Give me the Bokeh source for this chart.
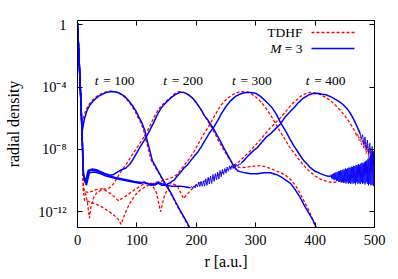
import numpy as np
from bokeh.plotting import figure
from bokeh.models import FixedTicker, LinearAxis, LogAxis, Label, Arrow
from bokeh.embed import file_html
from bokeh.resources import INLINE

# ---------------- data ----------------
x_ticks = [0, 100, 200, 300, 400, 500]
y_ticks = [1, 1e-4, 1e-8, 1e-12]
y_tick_labels = ["1", "10⁻⁴", "10⁻⁸", "10⁻¹²"]

times = [100, 200, 300, 400]
time_label_r = [62, 177, 293, 417]
time_label_log = -3.59

series_names = ["TDHF", "M = 3"]

# curves: (r [a.u.], log10 radial density)
B1 = [(0, 0.1), (2, -1.6), (4, -3.4), (6, -5.2), (8, -6.8), (12, -6.0), (16, -5.5), (21, -5.15), (27, -4.87),
      (35, -4.6), (44, -4.42), (50, -4.33), (58, -4.29), (65, -4.32), (72, -4.42), (80, -4.62), (86, -4.87),
      (92, -5.17), (98, -5.51), (103, -5.9), (109, -6.35), (113, -6.75), (116, -7.24), (121, -7.95),
      (126, -8.72), (133, -9.2), (140, -9.68), (148, -10.2), (157, -10.77), (165, -11.35), (173, -11.92),
      (181, -12.45), (189, -13.0), (195, -13.5)]

B2 = [(0, 0.1), (2, -1.6), (4, -3.4), (6, -5.2), (8, -7.4), (10, -9.5), (13, -10.1), (18, -9.35), (25, -9.25),
      (32, -9.3), (39, -9.42), (47, -9.55), (55, -9.65), (61, -9.6), (67, -9.45), (74, -9.3), (81, -9.2),
      (88, -8.95), (94, -8.6), (100, -8.2), (106, -7.8), (111, -7.5), (116, -7.2), (122, -6.75), (128, -6.3),
      (134, -5.8), (140, -5.4), (145, -5.15), (151, -4.92), (157, -4.7), (164, -4.5), (173, -4.33),
      (180, -4.36), (187, -4.5), (194, -4.72), (201, -5.06), (208, -5.45), (214, -5.85), (220, -6.15),
      (225, -6.45), (229, -6.67), (235, -7.1), (241, -7.5), (246, -7.88), (252, -8.3), (258, -8.72),
      (262, -9.0), (266, -9.23), (270, -9.38), (274, -9.42), (282, -9.5), (291, -9.55), (303, -9.55),
      (314, -9.5), (325, -9.49), (334, -9.6), (342, -9.74), (350, -9.95), (359, -10.19), (367, -10.6),
      (375, -11.09), (382, -11.6), (389, -12.05), (396, -12.5), (402, -13.0), (406, -13.4)]

B3 = [(0, 0.1), (2, -1.6), (4, -3.4), (6, -5.2), (8, -7.4), (10, -9.6), (14, -10.2), (19, -9.4), (24, -9.32),
      (30, -9.36), (38, -9.48), (46, -9.6), (56, -9.72), (66, -9.82), (76, -9.9), (86, -9.98), (96, -10.06),
      (104, -10.1), (112, -10.14), (120, -10.2), (128, -10.24), (136, -10.1), (144, -10.22), (150, -10.26),
      (157, -10.1), (163, -9.95), (168, -9.7), (174, -9.45), (179, -9.2), (185, -9.0), (190, -8.75),
      (196, -8.45), (202, -8.2), (208, -7.85), (215, -7.4), (222, -6.95), (229, -6.6), (236, -6.15),
      (242, -5.72), (250, -5.25), (258, -4.87), (266, -4.6), (274, -4.45), (281, -4.37), (288, -4.34),
      (295, -4.37), (301, -4.42), (308, -4.6), (316, -4.87), (322, -5.1), (328, -5.35), (335, -5.75),
      (342, -6.3), (350, -6.8), (358, -7.35), (364, -7.75), (370, -8.1), (376, -8.45), (381, -8.72),
      (387, -8.95), (392, -9.17), (400, -9.4), (409, -9.55), (418, -9.68), (426, -9.74)]
b3_noise_r = list(range(426, 501))
b3_noise_L = [-9.74, -9.62, -9.86, -9.58, -9.9, -9.55, -9.97, -9.5, -9.93, -9.47,
              -10.02, -9.45, -10.0, -9.4, -10.08, -9.38, -10.05, -9.33, -10.12, -9.35,
              -10.1, -9.28, -10.15, -9.3, -10.12, -9.22, -10.18, -9.25, -10.1, -9.2,
              -10.2, -9.15, -10.15, -9.18, -10.22, -9.1, -10.12, -9.12, -10.2, -9.05,
              -10.15, -9.08, -10.25, -9.0, -10.1, -9.02, -10.2, -8.95, -10.15, -8.98,
              -10.22, -8.9, -10.1, -8.85, -10.2, -8.88, -10.15, -8.8, -10.25, -8.75,
              -10.1, -8.7, -10.2, -8.6, -10.3, -8.5, -10.2, -8.4, -10.3, -8.3,
              -10.25, -8.2, -10.35, -8.1, -9.6]

B4 = [(0, 0.1), (2, -1.6), (4, -3.4), (6, -5.2), (8, -7.4), (10, -9.7), (15, -10.3), (20, -9.5), (28, -9.45),
      (38, -9.55), (48, -9.7), (58, -9.8), (68, -9.9), (78, -9.98), (88, -10.05), (98, -10.12), (106, -10.18),
      (112, -10.08), (118, -10.2), (124, -10.3), (130, -10.28), (136, -10.15), (142, -10.3), (150, -10.3),
      (158, -10.35), (166, -10.35), (174, -10.35), (182, -10.4), (190, -10.45)]
b4_noise_r = list(range(190, 278, 2))
b4_noise_L = [-10.45, -10.37, -10.50, -10.33, -10.46, -10.22, -10.40, -10.10, -10.38, -10.05,
              -10.36, -10.02, -10.35, -9.88, -10.30, -9.78, -10.22, -9.70, -10.18, -9.60,
              -10.05, -9.55, -9.95, -9.45, -9.90, -9.35, -9.75, -9.28, -9.60, -9.22,
              -9.52, -9.12, -9.40, -9.05, -9.30, -9.02, -9.22, -8.98, -9.15, -8.97,
              -9.08, -8.92, -8.98, -8.85]
B4_flank = [(276, -8.85), (280, -8.72), (286, -8.45), (291, -8.27), (297, -8.05), (303, -7.88), (310, -7.55),
            (318, -7.2), (325, -6.99), (334, -6.65), (342, -6.35), (350, -5.9), (357, -5.62), (364, -5.35),
            (372, -5.0), (380, -4.72), (388, -4.53), (395, -4.43), (400, -4.40), (406, -4.42), (412, -4.47),
            (418, -4.5), (425, -4.6), (432, -4.75), (440, -4.92), (447, -5.12), (454, -5.4), (460, -5.72),
            (466, -6.15), (472, -6.65), (476, -7.0)]
b4_tail_r = list(range(476, 502, 2))
b4_tail_L = [-7.0, -7.35, -7.05, -7.7, -7.2, -8.0, -7.4, -8.3, -7.6, -8.6, -7.8, -9.0, -8.0]

R1 = [(0, 0.1), (2, -1.6), (4, -3.4), (6, -5.2), (7.5, -6.8), (10, -6.0), (14, -5.5), (19, -5.13), (25, -4.85),
      (33, -4.58), (42, -4.4), (48, -4.31), (56, -4.27), (63, -4.3), (70, -4.4), (78, -4.6), (84, -4.85),
      (90, -5.15), (96, -5.49), (101, -5.88), (107, -6.33), (111, -6.73), (114, -7.22), (119, -7.93),
      (124, -8.7), (132, -9.2), (139, -9.68), (147, -10.2), (156, -10.77), (164, -11.35), (172, -11.92),
      (180, -12.45), (188, -13.0), (194, -13.5)]

R2 = [(0, 0.1), (2, -1.6), (4, -3.4), (6, -5.2), (8, -7.5), (10, -10.4), (14, -10.9), (17, -11.5), (20, -12.4),
      (23, -11.6), (27, -11.1), (32, -10.8), (38, -10.65), (44, -10.55), (52, -10.5), (57, -10.35),
      (62, -10.13), (67, -9.8), (72, -9.49), (79, -9.1), (86, -8.72), (93, -8.3), (99, -7.95), (105, -7.6),
      (111, -7.24), (117, -6.85), (123, -6.41), (128, -6.0), (133, -5.64), (139, -5.3), (145, -5.06),
      (151, -4.85), (157, -4.68), (164, -4.42), (171, -4.3), (176, -4.3), (182, -4.38), (189, -4.55),
      (196, -4.8), (202, -5.1), (208, -5.45), (213, -5.8), (218, -6.1), (223, -6.4), (227, -6.67),
      (233, -7.1), (238, -7.5), (242, -7.76), (248, -8.15), (254, -8.53), (258, -8.75), (263, -8.95),
      (268, -9.1), (274, -9.17), (282, -9.14), (291, -9.1), (300, -9.06), (308, -9.04), (316, -9.1),
      (325, -9.23), (333, -9.35), (342, -9.49), (350, -9.65), (359, -9.94), (367, -10.3), (375, -10.83),
      (382, -11.35), (389, -11.86), (395, -12.4), (401, -13.0), (405, -13.4)]

R3 = [(0, 0.1), (2, -1.6), (4, -3.4), (6, -5.2), (8, -7.5), (10, -10.7), (12, -11.28), (20, -11.35),
      (28.6, -11.47), (37, -11.6), (45.5, -11.8), (54, -12.0), (62.3, -12.24), (68, -12.45), (73.6, -12.8),
      (78, -12.3), (83, -11.85), (88, -11.45), (94, -11.1), (100, -10.8), (106, -10.6), (112, -10.45),
      (119, -10.3), (126, -10.2), (133, -10.1), (140, -10.05), (147, -9.95), (154, -9.87), (160, -9.78),
      (165, -9.68), (170, -9.5), (175, -9.25), (181, -8.95), (188, -8.6), (196, -8.15), (204, -7.6),
      (211, -7.1), (218, -6.7), (224, -6.3), (230, -5.9), (236, -5.5), (242, -5.15), (248, -4.9),
      (254, -4.68), (260, -4.52), (266, -4.4), (272, -4.32), (279, -4.29), (286, -4.32), (292, -4.42),
      (298, -4.58), (304, -4.76), (311, -5.05), (318, -5.4), (325, -5.8), (333, -6.3), (341, -6.85),
      (350, -7.4), (358, -7.9), (367, -8.35), (375, -8.75), (384, -9.15), (392, -9.45), (400, -9.7),
      (409, -9.9), (417, -10.02), (426, -10.1), (434, -10.1), (441, -10.02), (448, -9.95)]
r3_noise_r = list(range(448, 502, 2))
r3_noise_L = [-9.95, -9.82, -10.0, -9.75, -9.95, -9.65, -9.88, -9.55, -9.85, -9.45,
              -9.8, -9.35, -9.75, -9.25, -9.7, -9.15, -9.65, -9.0, -9.6, -8.85,
              -9.55, -8.7, -9.5, -8.5, -9.45, -8.2, -9.2]

R4 = [(0, 0.1), (2, -1.6), (4, -3.4), (6, -5.2), (8.4, -7.6), (10, -10.64), (18.5, -10.77), (30.3, -10.58),
      (42, -10.51), (55.6, -10.83), (69, -11.28), (82.5, -10.96), (96, -10.58), (109.4, -10.26),
      (123, -10.13), (133, -10.77), (139.7, -11.99), (146.5, -10.96), (156.6, -10.13), (168, -10.32),
      (178.5, -11.15), (190, -10.64), (202, -10.19), (215.5, -10.0), (229, -9.81), (249, -9.36),
      (262.6, -9.04), (274, -8.72), (291, -8.08), (308, -7.37), (325, -6.6), (342, -5.96), (358.6, -5.19),
      (375, -4.62), (384, -4.42), (392, -4.34), (400, -4.38), (409, -4.49), (417, -4.65), (426, -4.87),
      (434, -5.15), (443, -5.51), (450, -5.85), (456, -6.15), (462, -6.5), (468, -6.92), (470, -7.15)]
r4_tail_r = list(range(470, 502, 2))
r4_tail_L = [-7.15, -7.0, -7.45, -7.2, -7.7, -7.4, -7.95, -7.55, -8.25, -7.75, -8.5, -7.9, -8.8, -8.1,
             -9.1, -8.4]


# ---------------- assemble ----------------
def curve(pts):
    pts = list(pts)
    return [a for a, b in pts], [10.0 ** b for a, b in pts]


red_smooth = [curve(R1), curve(R2), curve(R3), curve(R4)]
red_noise = [curve(zip(r3_noise_r, r3_noise_L)), curve(zip(r4_tail_r, r4_tail_L))]
blue_smooth = [curve(B1), curve(B2), curve(B3), curve(B4), curve(B4_flank)]
blue_noise = [curve(zip(b3_noise_r, b3_noise_L)), curve(zip(b4_noise_r, b4_noise_L)),
              curve(zip(b4_tail_r, b4_tail_L))]

SERIF = "Liberation Serif"
RED = "#ff0000"
BLUE = "#0000ff"

p = figure(width=398, height=279, x_range=(0, 500), y_range=(1e-13, 10 ** 0.26),
           y_axis_type="log", output_backend="svg", toolbar_location=None,
           min_border_left=77, min_border_right=24, min_border_top=20, min_border_bottom=52)
p.background_fill_color = "white"
p.border_fill_color = "white"
p.outline_line_color = "black"
p.outline_line_width = 1
p.xgrid.visible = False
p.ygrid.visible = False

for r, y in red_smooth:
    p.line(r, y, line_color=RED, line_width=1.3, line_dash="3 2")
for r, y in red_noise:
    p.line(r, y, line_color=RED, line_width=0.9, line_dash="3 1")
for r, y in blue_smooth:
    p.line(r, y, line_color=BLUE, line_width=1.5)
for r, y in blue_noise:
    p.line(r, y, line_color=BLUE, line_width=0.9)


def style_axis(ax):
    ax.axis_line_color = "black"
    ax.major_tick_line_color = "black"
    ax.major_tick_in = 5
    ax.major_tick_out = 0
    ax.minor_tick_in = 0
    ax.minor_tick_out = 0
    ax.major_label_text_font = SERIF
    ax.major_label_text_font_size = "14.5px"
    ax.major_label_text_color = "black"
    ax.axis_label_text_font = SERIF
    ax.axis_label_text_font_style = "normal"
    ax.axis_label_text_color = "black"


xa = p.xaxis[0]
style_axis(xa)
xa.ticker = FixedTicker(ticks=x_ticks)
xa.major_label_standoff = 7
xa.axis_label = "r [a.u.]"
xa.axis_label_text_font_size = "16px"
xa.axis_label_standoff = 5

ya = p.yaxis[0]
style_axis(ya)
ya.ticker = FixedTicker(ticks=y_ticks)
ya.major_label_overrides = {t: s for t, s in zip(y_ticks, y_tick_labels)}
ya.major_label_standoff = 11
ya.axis_label = "radial density"
ya.axis_label_text_font_size = "16px"
ya.axis_label_standoff = 13

top = LinearAxis(ticker=FixedTicker(ticks=x_ticks),
                 major_label_overrides={t: "" for t in x_ticks})
style_axis(top)
top.major_label_text_font_size = "1px"
top.major_label_standoff = 0
p.add_layout(top, "above")

right = LogAxis(ticker=FixedTicker(ticks=y_ticks),
                major_label_overrides={t: "" for t in y_ticks})
style_axis(right)
right.major_label_text_font_size = "1px"
right.major_label_standoff = 0
p.add_layout(right, "right")

# time labels
for t, rc in zip(times, time_label_r):
    p.add_layout(Label(x=rc, y=10 ** time_label_log, x_offset=-19.5, text="t",
                       text_font=SERIF, text_font_style="italic", text_font_size="13.5px",
                       text_align="left", text_baseline="middle", text_color="black"))
    p.add_layout(Label(x=rc, y=10 ** time_label_log, x_offset=-11, text="= %d" % t,
                       text_font=SERIF, text_font_size="13.5px",
                       text_align="left", text_baseline="middle", text_color="black"))

# legend (text on the left, key line on the right)
p.add_layout(Label(x=225, y=195, x_units="screen", y_units="screen", text=series_names[0],
                   text_font=SERIF, text_font_size="13.5px", text_align="right",
                   text_baseline="middle", text_color="black"))
p.add_layout(Label(x=204, y=179, x_units="screen", y_units="screen", text="M",
                   text_font=SERIF, text_font_style="italic", text_font_size="13.5px",
                   text_align="right", text_baseline="middle", text_color="black"))
p.add_layout(Label(x=225, y=179, x_units="screen", y_units="screen", text="= 3",
                   text_font=SERIF, text_font_size="13.5px", text_align="right",
                   text_baseline="middle", text_color="black"))
p.add_layout(Arrow(end=None, x_start=234, y_start=195, x_end=277, y_end=195,
                   start_units="screen", end_units="screen",
                   line_color=RED, line_width=1.3, line_dash="3 2"))
p.add_layout(Arrow(end=None, x_start=234, y_start=179, x_end=277, y_end=179,
                   start_units="screen", end_units="screen",
                   line_color=BLUE, line_width=1.5))

open("out.html", "w").write(file_html(p, INLINE))
